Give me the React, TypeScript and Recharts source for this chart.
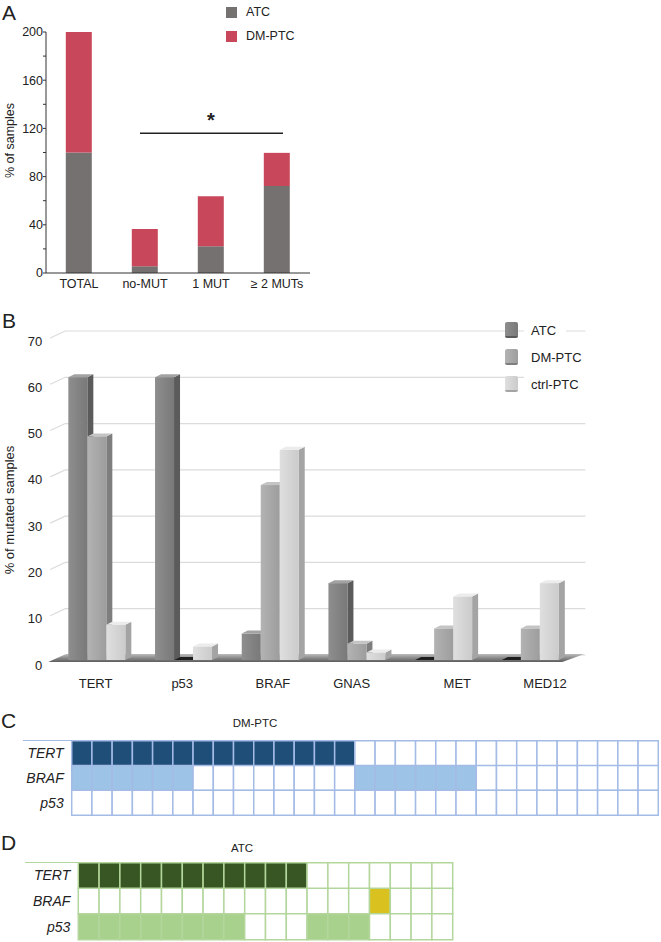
import React from "react";
import {
  BarChart,
  Bar,
  XAxis,
  YAxis,
  CartesianGrid,
  Legend,
  ReferenceLine,
  Cell,
} from "recharts";

const FONT = '"Liberation Sans", Arial, Helvetica, sans-serif';

// ---- panel A: mutation burden ----
const groupsA = ["TOTAL", "no-MUT", "1 MUT", "≥ 2 MUTs"];
const atcA = [100, 5.6, 22.2, 72.2];
const dmA = [100, 31, 41.5, 27.5];
const ticksA = [0, 20, 40, 60, 80, 100, 120, 140, 160, 180, 200];
const sigLevelA = 116;

// ---- panel B: mutated samples per gene ----
const genesB = ["TERT", "p53", "BRAF", "GNAS", "MET", "MED12"];
const atcB = [61.1, 61.1, 5.7, 16.6, 0, 0];
const dmB = [48.3, 0, 37.8, 3.5, 6.8, 6.8];
const ctrlB = [7.6, 2.9, 45.4, 1.6, 13.7, 16.6];
const ticksB = [0, 10, 20, 30, 40, 50, 60, 70];

// ---- panels C / D: per-sample mutation grid ----
const gridGenes = ["TERT", "BRAF", "p53"];
const dmTert = [1, 1, 1, 1, 1, 1, 1, 1, 1, 1, 1, 1, 1, 1, 0, 0, 0, 0, 0, 0, 0, 0, 0, 0, 0, 0, 0, 0, 0];
const dmBraf = [1, 1, 1, 1, 1, 1, 0, 0, 0, 0, 0, 0, 0, 0, 1, 1, 1, 1, 1, 1, 0, 0, 0, 0, 0, 0, 0, 0, 0];
const dmP53 = [0, 0, 0, 0, 0, 0, 0, 0, 0, 0, 0, 0, 0, 0, 0, 0, 0, 0, 0, 0, 0, 0, 0, 0, 0, 0, 0, 0, 0];
const atcTert = [1, 1, 1, 1, 1, 1, 1, 1, 1, 1, 1, 0, 0, 0, 0, 0, 0, 0];
const atcBraf = [0, 0, 0, 0, 0, 0, 0, 0, 0, 0, 0, 0, 0, 0, 1, 0, 0, 0];
const atcP53 = [1, 1, 1, 1, 1, 1, 1, 1, 0, 0, 0, 1, 1, 1, 0, 0, 0, 0];

const dataA = groupsA.map((group, i) => ({ group, ATC: atcA[i], "DM-PTC": dmA[i] }));
const dataB = genesB.map((gene, i) => ({
  gene,
  ATC: atcB[i],
  "DM-PTC": dmB[i],
  "ctrl-PTC": ctrlB[i],
}));

const tonesB: Record<string, { front: [string, string]; side: string; top: string }> = {
  ATC: { front: ["#8e8e8e", "#797979"], side: "#5b5b5b", top: "#a2a2a2" },
  "DM-PTC": { front: ["#b3b3b3", "#9d9d9d"], side: "#7e7e7e", top: "#c4c4c4" },
  "ctrl-PTC": { front: ["#dfdfdf", "#cbcbcb"], side: "#a4a4a4", top: "#ececec" },
};

// label nudges to match the original figure
const labelShiftB: Record<string, number> = { TERT: -2, p53: -2, BRAF: 2, GNAS: -6, MET: 13, MED12: 14 };

const yTitle = (text: string, cx: number, shift: number, fontSize: number) => (props: any) => {
  const vb = props.viewBox || { y: 0, height: 0 };
  const cy = vb.y + vb.height / 2 + shift;
  return (
    <text
      x={cx}
      y={cy}
      transform={`rotate(-90 ${cx} ${cy})`}
      textAnchor="middle"
      dominantBaseline="central"
      fontSize={fontSize}
      fill="#222"
      fontFamily={FONT}
    >
      {text}
    </text>
  );
};

function LegendA({ payload }: any) {
  return (
    <div style={{ fontFamily: FONT, fontSize: 12.5, color: "#222" }}>
      {(payload || []).map((p: any) => (
        <div key={p.value} style={{ display: "flex", alignItems: "center", height: 24 }}>
          <div style={{ width: 11, height: 11, background: p.color }} />
          <span style={{ marginLeft: 9 }}>{p.value}</span>
        </div>
      ))}
    </div>
  );
}

function LegendB({ payload }: any) {
  return (
    <div style={{ fontFamily: FONT, fontSize: 13, color: "#222" }}>
      {(payload || []).map((p: any) => {
        const t = tonesB[p.value];
        return (
          <div key={p.value} style={{ display: "flex", alignItems: "center", height: 27 }}>
            <div
              style={{
                width: 13,
                height: 14,
                borderRadius: 2,
                background: `linear-gradient(90deg, ${t.front[0]}, ${t.front[1]})`,
                borderBottom: `2px solid ${t.side}`,
              }}
            />
            <span style={{ background: "#fff", marginLeft: 6, padding: "0 10px 0 7px", lineHeight: "19px" }}>
              {p.value}
            </span>
          </div>
        );
      })}
    </div>
  );
}

const box3D = (series: string) => (props: any) => {
  const { x, y, width, height, index } = props;
  const t = tonesB[series];
  const dx = 6;
  const dy = 3;
  if (!height || height < 0.5) {
    const b = y + (height || 0);
    return (
      <polygon
        points={`${x},${b} ${x + dx},${b - dy} ${x + width + dx},${b - dy} ${x + width},${b}`}
        fill="#1e1e1e"
      />
    );
  }
  const id = `bx-${series.replace(/[^a-z]/gi, "")}-${index}`;
  return (
    <g>
      <defs>
        <linearGradient id={id} x1="0" y1="0" x2="1" y2="0">
          <stop offset="0" stopColor={t.front[0]} />
          <stop offset="1" stopColor={t.front[1]} />
        </linearGradient>
      </defs>
      <polygon
        points={`${x + width},${y} ${x + width + dx},${y - dy} ${x + width + dx},${y + height - dy} ${x + width},${y + height}`}
        fill={t.side}
      />
      <polygon
        points={`${x},${y} ${x + dx},${y - dy} ${x + width + dx},${y - dy} ${x + width},${y}`}
        fill={t.top}
      />
      <rect x={x} y={y} width={width} height={height} fill={`url(#${id})`} />
    </g>
  );
};

const gridLineB = (p: any) => {
  const { x1, x2, y1, y, height } = p;
  const isBase = Math.abs(y1 - (y + height)) < 1;
  return (
    <g key={p.key}>
      <polyline
        points={`${x1 - 4},${y1 + 2} ${x1 + 11},${y1 - 5} ${x2 + 11},${y1 - 5}`}
        fill="none"
        stroke="#dcdcdc"
        strokeWidth={1.2}
      />
      {isBase && (
        <g>
          <defs>
            <linearGradient id="floorB" x1="0" y1="0" x2="0" y2="1">
              <stop offset="0" stopColor="#bdbdbd" />
              <stop offset="0.5" stopColor="#8a8a8a" />
              <stop offset="1" stopColor="#5e5e5e" />
            </linearGradient>
          </defs>
          <polygon
            points={`${x1 - 6},${y1 + 2} ${x1 + 12},${y1 - 6} ${x2 + 10},${y1 - 6} ${x2 - 12},${y1 + 2}`}
            fill="url(#floorB)"
          />
        </g>
      )}
    </g>
  );
};

function TickB({ x, y, payload }: any) {
  return (
    <text
      x={x + (labelShiftB[payload.value] ?? 0)}
      y={y + 20}
      textAnchor="middle"
      fontSize={13}
      fill="#222"
      fontFamily={FONT}
    >
      {payload.value}
    </text>
  );
}

interface GridProps {
  states: number[][];
  colors: string[];
  stroke: string;
  width: number;
  height: number;
  labelWidth: number;
  margin: { top: number; right: number; bottom: number; left: number };
}

function MutationGrid({ states, colors, stroke, width, height, labelWidth, margin }: GridProps) {
  const cols = states[0].length;
  const rows = gridGenes.map((gene, r) => {
    const row: Record<string, any> = { gene };
    states[r].forEach((_, c) => {
      row[`c${c}`] = 1;
    });
    return row;
  });
  return (
    <BarChart
      width={width}
      height={height}
      data={rows}
      layout="vertical"
      margin={margin}
      barCategoryGap={0}
      barGap={0}
    >
      <XAxis type="number" domain={[0, cols]} hide />
      <YAxis
        type="category"
        dataKey="gene"
        width={labelWidth}
        tickLine={false}
        axisLine={false}
        tick={{ fontSize: 14, fontStyle: "italic", fill: "#222", fontFamily: FONT }}
      />
      {states[0].map((_, c) => (
        <Bar
          key={c}
          dataKey={`c${c}`}
          stackId="s"
          isAnimationActive={false}
          stroke={stroke}
          strokeWidth={1.5}
        >
          {gridGenes.map((g, r) => (
            <Cell key={g} fill={states[r][c] ? colors[r] : "#ffffff"} />
          ))}
        </Bar>
      ))}
    </BarChart>
  );
}

const letter: React.CSSProperties = {
  position: "absolute",
  fontFamily: FONT,
  fontSize: 21,
  lineHeight: "24px",
  color: "#222",
};

export default function App() {
  return (
    <div
      style={{
        position: "absolute",
        left: 0,
        top: 0,
        width: 661,
        height: 942,
        background: "#fff",
        fontFamily: FONT,
        overflow: "hidden",
      }}
    >
      {/* A */}
      <div style={{ position: "absolute", left: 0, top: 0 }}>
        <BarChart
          width={330}
          height={295}
          data={dataA}
          margin={{ top: 32, right: 20, bottom: 2, left: 0 }}
          barCategoryGap="30%"
        >
          <XAxis
            dataKey="group"
            height={20}
            tickLine={false}
            tickSize={4}
            axisLine={{ stroke: "#333" }}
            tick={{ fontSize: 12.5, fill: "#222", fontFamily: FONT }}
            interval={0}
          />
          <YAxis
            width={46}
            domain={[0, 200]}
            ticks={ticksA}
            interval={0}
            tickSize={3}
            tickMargin={0}
            tickFormatter={(v: number) => (v % 40 === 0 ? String(v) : "")}
            axisLine={{ stroke: "#333" }}
            tickLine={{ stroke: "#333" }}
            tick={{ fontSize: 12.5, fill: "#222", fontFamily: FONT }}
            label={{ value: "% of samples", content: yTitle("% of samples", 10, -12, 12.5) }}
          />
          <Legend
            layout="vertical"
            align="center"
            verticalAlign="middle"
            content={<LegendA />}
            wrapperStyle={{ top: 0, left: 226, width: 100 }}
          />
          <Bar dataKey="ATC" stackId="a" fill="#767171" isAnimationActive={false} />
          <Bar dataKey="DM-PTC" stackId="a" fill="#c9475b" isAnimationActive={false} />
          <ReferenceLine
            segment={[
              { x: "no-MUT", y: sigLevelA },
              { x: "≥ 2 MUTs", y: sigLevelA },
            ]}
            ifOverflow="visible"
            stroke="#222"
            strokeWidth={1.5}
            shape={(p: any) => (
              <line x1={p.x1 - 5} y1={p.y1} x2={p.x2 + 6} y2={p.y2} stroke="#222" strokeWidth={1.5} />
            )}
            label={{ value: "*", position: "top", offset: 6, fontSize: 20, fontWeight: 700, fill: "#222" }}
          />
        </BarChart>
      </div>
      <div style={{ ...letter, left: 2, top: 1 }}>A</div>

      {/* B */}
      <div style={{ position: "absolute", left: 0, top: 300 }}>
        <BarChart
          width={600}
          height={400}
          data={dataB}
          margin={{ top: 36, right: 25.6, bottom: 0, left: 0 }}
          barCategoryGap="16.3%"
          barGap={0}
        >
          <CartesianGrid vertical={false} horizontal={gridLineB} />
          <XAxis dataKey="gene" height={40} tickLine={false} axisLine={false} tick={<TickB />} interval={0} />
          <YAxis
            width={54.2}
            domain={[0, 70]}
            ticks={ticksB}
            interval={0}
            tickLine={false}
            axisLine={false}
            tickMargin={6}
            tick={{ fontSize: 13, fill: "#222", fontFamily: FONT, dy: 5 }}
            label={{ value: "% of mutated samples", content: yTitle("% of mutated samples", 9.5, 12, 13) }}
          />
          <Legend
            layout="vertical"
            align="center"
            verticalAlign="middle"
            content={<LegendB />}
            wrapperStyle={{ top: 16.5, left: 505, width: 95 }}
          />
          <Bar dataKey="ATC" fill="#858585" shape={box3D("ATC")} isAnimationActive={false} />
          <Bar dataKey="DM-PTC" fill="#a8a8a8" shape={box3D("DM-PTC")} isAnimationActive={false} />
          <Bar dataKey="ctrl-PTC" fill="#d5d5d5" shape={box3D("ctrl-PTC")} isAnimationActive={false} />
        </BarChart>
      </div>
      <div style={{ ...letter, left: 2, top: 309 }}>B</div>

      {/* C */}
      <div style={{ ...letter, left: 1, top: 709 }}>C</div>
      <div
        style={{
          position: "absolute",
          left: 205,
          width: 100,
          top: 717,
          textAlign: "center",
          fontSize: 11.5,
          lineHeight: "12px",
          color: "#222",
        }}
      >
        DM-PTC
      </div>
      <div style={{ position: "absolute", left: 0, top: 700 }}>
        <MutationGrid
          states={[dmTert, dmBraf, dmP53]}
          colors={["#1f4e79", "#9dc3e6", "#9dc3e6"]}
          stroke="#a4bbe6"
          width={661}
          height={120}
          labelWidth={71.7}
          margin={{ top: 40.7, right: 2.7, bottom: 5, left: 0 }}
        />
      </div>
      <div
        style={{
          position: "absolute",
          left: 22.7,
          top: 740,
          width: 50,
          borderTop: "1.5px solid #a4bbe6",
        }}
      />

      {/* D */}
      <div style={{ ...letter, left: 1, top: 831 }}>D</div>
      <div
        style={{
          position: "absolute",
          left: 192,
          width: 100,
          top: 842,
          textAlign: "center",
          fontSize: 11.5,
          lineHeight: "12px",
          color: "#222",
        }}
      >
        ATC
      </div>
      <div style={{ position: "absolute", left: 0, top: 820 }}>
        <MutationGrid
          states={[atcTert, atcBraf, atcP53]}
          colors={["#375623", "#d9c21f", "#a9d18e"]}
          stroke="#b3d69c"
          width={661}
          height={125}
          labelWidth={78.3}
          margin={{ top: 42.7, right: 208.3, bottom: 5.7, left: 0 }}
        />
      </div>
      <div
        style={{
          position: "absolute",
          left: 25,
          top: 862,
          width: 54,
          borderTop: "1.5px solid #b3d69c",
        }}
      />
    </div>
  );
}
